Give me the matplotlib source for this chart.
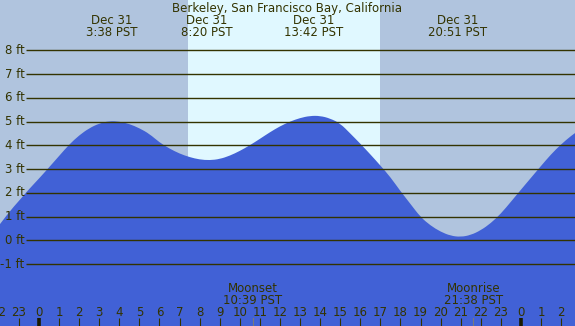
import matplotlib
matplotlib.use("Agg")
import matplotlib.pyplot as plt
from matplotlib.path import Path
from matplotlib.patches import PathPatch

# ---- data ----
title = "Berkeley, San Francisco Bay, California"
hours = [-2.0, -1.5, -1.0, -0.5, 0.0, 0.5, 1.0, 1.5, 2.0, 2.5, 3.0, 3.5, 4.0, 4.5,
         5.0, 5.5, 6.0, 6.5, 7.0, 7.5, 8.0, 8.5, 9.0, 9.5, 10.0, 10.5, 11.0, 11.5,
         12.0, 12.5, 13.0, 13.5, 14.0, 14.5, 15.0, 15.5, 16.0, 16.5, 17.0, 17.5,
         18.0, 18.5, 19.0, 19.5, 20.0, 20.5, 21.0, 21.5, 22.0, 22.5, 23.0, 23.5,
         24.0, 24.5, 25.0, 25.5, 26.0, 26.5, 27.0]
height_ft = [0.62, 1.18, 1.66, 2.15, 2.60, 3.07, 3.55, 4.03, 4.42, 4.72, 4.92, 5.02, 5.00, 4.90,
             4.72, 4.48, 4.12, 3.86, 3.65, 3.50, 3.40, 3.37, 3.42, 3.56, 3.76, 4.00, 4.27, 4.55,
             4.80, 5.00, 5.15, 5.24, 5.24, 5.13, 4.92, 4.50, 4.07, 3.62, 3.15, 2.66,
             2.07, 1.53, 0.98, 0.62, 0.36, 0.19, 0.14, 0.22, 0.42, 0.72, 1.12, 1.62,
             2.13, 2.63, 3.13, 3.62, 4.04, 4.40, 4.70]

event_hours = [3 + 38/60, 8 + 20/60, 13 + 42/60, 20 + 51/60]
event_dates = ["Dec 31", "Dec 31", "Dec 31", "Dec 31"]
event_times = ["3:38 PST", "8:20 PST", "13:42 PST", "20:51 PST"]

sunrise_h = 7 + 25/60
sunset_h = 17 + 0/60

moon_hours = [10 + 39/60, 21 + 38/60]
moon_names = ["Moonset", "Moonrise"]
moon_times = ["10:39 PST", "21:38 PST"]

grid_ft = [-1, 0, 1, 2, 3, 4, 5, 6, 7, 8]
hour_ticks = list(range(-2, 27))

# ---- styling ----
NIGHT = "#b0c4de"
DAY = "#e0f8ff"
WATER = "#4161d6"
INK = "#333300"
FS = 8.5

W, H = 575, 326
fig = plt.figure(figsize=(W/100, H/100), dpi=100)
ax = fig.add_axes([0, 0, 1, 1])
ax.set_facecolor(NIGHT)
fig.patch.set_facecolor(NIGHT)

x0 = -39/20.08
x1 = (W - 39)/20.08
ppf = 23.75
y_top = 240.3/ppf
y_bot = -(H - 240.3)/ppf
ax.set_xlim(x0, x1)
ax.set_ylim(y_bot, y_top)
ax.axis("off")


def py(pix):
    """figure pixel row (from top) -> data y"""
    return y_top - pix/ppf


ax.axvspan(sunrise_h, sunset_h, color=DAY, zorder=0, lw=0)

# smooth water surface: quadratic Bezier segments through the data points
floor = y_bot - 1
verts = [(hours[0], floor), (hours[0], height_ft[0])]
codes = [Path.MOVETO, Path.LINETO]
n = len(hours)
for i in range(1, n - 1):
    mx = (hours[i] + hours[i + 1]) / 2
    my = (height_ft[i] + height_ft[i + 1]) / 2
    verts += [(hours[i], height_ft[i]), (mx, my)]
    codes += [Path.CURVE3, Path.CURVE3]
verts += [(hours[-1], height_ft[-1]), (hours[-1], floor), (hours[0], floor)]
codes += [Path.LINETO, Path.LINETO, Path.CLOSEPOLY]
ax.add_patch(PathPatch(Path(verts, codes), facecolor=WATER, lw=0, zorder=1))

xl = x0 + 26/20.08
for g in grid_ft:
    ax.plot([xl, x1 + 1], [g, g], color=INK, lw=1.0, zorder=2, solid_capstyle="butt")
    ax.text(x0 + 24.5/20.08, g, f"{g} ft", ha="right", va="center",
            fontsize=FS, color=INK, zorder=3)

ax.text((x0 + x1)/2, py(12.3), title, ha="center", va="baseline",
        fontsize=FS, color=INK)
for eh, d, t in zip(event_hours, event_dates, event_times):
    ax.text(eh, py(24), d, ha="center", va="baseline", fontsize=FS, color=INK)
    ax.text(eh, py(36), t, ha="center", va="baseline", fontsize=FS, color=INK)

for mh, nm, t in zip(moon_hours, moon_names, moon_times):
    ax.text(mh, py(292), nm, ha="center", va="baseline", fontsize=FS, color=INK)
    ax.text(mh, py(303.7), t, ha="center", va="baseline", fontsize=FS, color=INK)
    ax.plot([mh, mh], [py(318), floor], color="#7a7a7a", lw=0.8, zorder=3)

for h in hour_ticks:
    ax.text(h, py(316), str(h % 24), ha="center", va="baseline",
            fontsize=FS, color=INK)
    thick = (h % 24 == 0)
    ax.plot([h, h], [py(318), floor], color="#1a1a00" if thick else INK,
            lw=2.6 if thick else 0.8, zorder=3, solid_capstyle="butt")

fig.savefig("out.png", dpi=100, facecolor=NIGHT)
